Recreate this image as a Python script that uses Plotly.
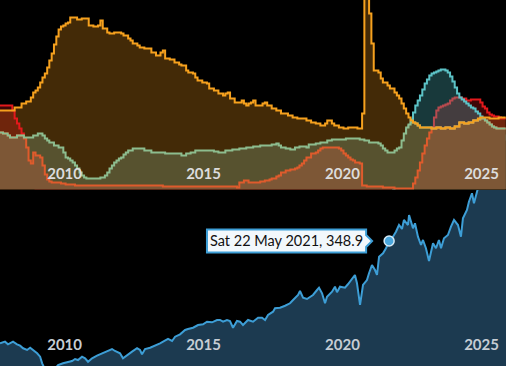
import plotly.graph_objects as go

# ---------------- top panel: monthly step series ----------------
orange_months = ["2007-05","2007-06","2007-12","2008-03","2008-05","2008-07","2008-08","2008-09","2008-10","2008-11",
    "2008-12","2009-01","2009-02","2009-03","2009-04","2009-05","2009-06","2009-07","2009-08","2009-09",
    "2009-10","2009-11","2009-12","2010-03","2010-05","2010-08","2010-10","2010-12","2011-01","2011-02",
    "2011-04","2011-05","2011-07","2011-10","2011-11","2012-01","2012-02","2012-03","2012-05","2012-06",
    "2012-08","2012-11","2013-01","2013-03","2013-04","2013-05","2013-07","2013-09","2013-11","2013-12",
    "2014-02","2014-03","2014-05","2014-06","2014-07","2014-09","2014-11","2014-12","2015-02","2015-04",
    "2015-06","2015-07","2015-08","2015-09","2015-11","2016-02","2016-03","2016-04","2016-05","2016-06",
    "2016-07","2016-08","2016-11","2016-12","2017-01","2017-03","2017-05","2017-07","2017-10","2017-12",
    "2018-02","2018-06","2018-08","2018-10","2018-12","2019-02","2019-03","2019-05","2019-06","2019-08",
    "2019-10","2019-12","2020-04","2020-06","2020-07","2020-09","2020-10","2020-11","2021-01","2021-02",
    "2021-03","2021-05","2021-06","2021-08","2021-09","2021-10","2021-11","2021-12","2022-01","2022-02",
    "2022-03","2022-04","2022-05","2022-06","2022-07","2022-12","2023-02","2023-04","2023-06","2023-08",
    "2023-10","2023-12","2024-02","2024-04","2024-06","2024-08","2024-09","2025-01","2025-05","2025-08"]
orange_vals = [3.95,3.95,4.1,4.3,4.4,4.6,4.85,4.95,5.1,5.35,
    5.6,5.8,6.1,6.45,6.8,7.25,7.65,8.0,8.15,8.2,
    8.3,8.35,8.6,8.5,8.55,8.2,8.15,8.2,8.45,8.05,
    7.85,7.8,7.85,7.8,7.7,7.55,7.45,7.3,7.2,7.1,
    7.05,6.85,6.7,6.85,6.95,6.55,6.5,6.35,6.25,6.2,
    5.95,5.85,5.8,5.6,5.45,5.35,5.3,5.05,4.95,4.8,
    4.7,4.8,4.85,4.55,4.35,4.45,4.3,4.2,4.3,4.35,
    4.45,4.2,4.3,4.35,4.2,4.05,3.95,3.8,3.7,3.6,
    3.55,3.45,3.35,3.3,3.2,3.3,3.45,3.3,3.2,3.1,
    3.05,3.1,3.05,3.8,12.0,8.8,7.3,5.95,5.85,5.55,
    5.35,5.2,5.05,4.85,4.7,4.55,4.3,4.05,3.8,3.6,
    3.45,3.35,3.3,3.2,3.1,3.05,3.1,3.05,3.1,3.05,
    3.15,3.35,3.3,3.35,3.45,3.55,3.6,3.55,3.6,3.6]

green_months = ["2007-05","2007-07","2007-09","2007-10","2008-01","2008-04","2008-08","2008-10","2008-12","2009-01",
    "2009-02","2009-03","2009-05","2009-07","2009-09","2009-10","2009-11","2009-12","2010-01","2010-02",
    "2010-03","2010-04","2010-05","2010-06","2010-07","2011-01","2011-03","2011-04","2011-05","2011-06",
    "2011-07","2011-08","2011-09","2011-10","2011-11","2011-12","2012-01","2012-03","2012-08","2012-11",
    "2013-05","2013-12","2014-02","2014-04","2014-06","2015-02","2015-04","2015-07","2015-10","2016-01",
    "2016-04","2016-07","2016-10","2017-03","2017-05","2017-06","2017-07","2017-09","2017-11","2018-01",
    "2018-03","2018-06","2018-07","2018-10","2018-12","2019-03","2019-05","2019-11","2020-05","2020-07",
    "2020-09","2021-01","2021-02","2021-03","2021-04","2021-05","2021-08","2021-09","2021-10","2021-11",
    "2021-12","2022-01","2022-02","2022-03","2022-04","2022-05","2022-06","2022-07","2022-12","2023-02",
    "2023-04","2023-06","2023-08","2023-10","2023-12","2024-02","2024-04","2024-06","2024-08","2024-09",
    "2024-11","2024-12","2025-01","2025-02","2025-03","2025-04","2025-08"]
green_vals = [2.85,2.8,2.7,2.6,2.7,2.6,2.7,2.8,2.7,2.55,
    2.45,2.35,2.2,2.1,1.85,1.6,1.55,1.45,1.35,1.2,
    1.05,0.85,0.7,0.6,0.55,0.6,0.7,0.85,1.05,1.2,
    1.35,1.45,1.55,1.6,1.75,1.85,1.95,2.05,1.95,1.85,
    1.8,1.7,1.8,1.85,1.95,1.9,1.85,1.95,2.0,2.05,
    2.1,2.15,2.2,2.25,2.3,2.2,2.1,2.05,2.0,2.1,
    2.15,2.1,2.25,2.3,2.35,2.45,2.5,2.55,2.5,2.45,
    2.35,2.3,2.2,2.05,1.95,1.85,1.95,2.05,2.1,2.45,
    2.8,3.1,3.25,3.35,3.35,3.3,3.2,3.1,3.05,3.1,
    3.05,3.1,3.05,3.15,3.35,3.3,3.35,3.45,3.5,3.55,
    3.45,3.35,3.25,3.15,3.1,3.05,3.05]

rust_months = ["2007-05","2007-07","2007-09","2007-10","2008-01","2008-04","2008-05","2008-06","2008-07","2008-08",
    "2008-09","2008-11","2008-12","2009-01","2009-02","2009-03","2009-04","2009-08","2009-10","2010-02",
    "2013-04","2015-12","2016-01","2016-03","2016-05","2016-10","2016-12","2017-02","2017-03","2017-05",
    "2017-06","2017-07","2017-09","2017-11","2018-01","2018-02","2018-03","2018-04","2018-05","2018-06",
    "2018-08","2018-10","2018-11","2018-12","2019-01","2019-08","2019-09","2019-10","2019-11","2019-12",
    "2020-01","2020-02","2020-03","2020-05","2020-06","2020-08","2021-03","2021-08","2022-04","2022-05",
    "2022-06","2022-07","2022-08","2022-09","2022-10","2022-11","2022-12","2023-02","2023-04","2023-06",
    "2023-08","2023-10","2023-12","2024-02","2024-04","2024-06","2024-08","2024-09","2024-11","2024-12",
    "2025-01","2025-02","2025-03","2025-04","2025-08"]
rust_vals = [2.85,2.8,2.7,2.6,2.7,2.55,2.1,1.45,1.3,1.85,
    1.7,1.6,1.2,0.75,0.5,0.4,0.35,0.3,0.25,0.2,
    0.15,0.1,0.35,0.45,0.35,0.4,0.45,0.5,0.55,0.65,
    0.7,0.85,0.95,1.0,1.05,1.1,1.2,1.3,1.45,1.6,
    1.8,1.85,1.95,2.05,2.1,2.05,1.95,1.8,1.7,1.6,
    1.5,1.45,1.35,1.3,0.2,0.15,0.1,0.05,0.3,0.6,
    0.95,1.35,1.8,2.2,2.55,2.85,3.05,3.1,3.05,3.1,
    3.05,3.15,3.35,3.3,3.35,3.45,3.5,3.55,3.45,3.35,
    3.25,3.15,3.1,3.05,3.05]

red_months = ["2007-05","2007-11","2007-12","2008-01","2008-02","2008-03","2008-04","2008-05","2008-06","2008-07",
    "2008-08","2008-09","2022-04","2022-05","2022-06","2022-07","2022-08","2022-09","2022-10","2022-11",
    "2022-12","2023-01","2023-02","2023-03","2023-04","2023-05","2023-06","2023-07","2023-08","2023-09",
    "2023-10","2024-01","2024-03","2024-05","2024-09","2024-10","2024-11","2024-12","2025-01","2025-02",
    "2025-03","2025-05","2025-06","2025-08"]
red_vals = [4.2,3.95,3.55,3.3,3.05,2.8,2.55,2.1,1.2,0.45,
    0.15,0.05,0.3,0.6,0.95,1.35,1.8,2.2,2.55,2.85,
    3.1,3.6,3.95,4.1,4.15,4.2,4.25,4.3,4.45,4.55,
    4.6,4.55,4.45,4.5,4.35,4.15,4.05,3.85,3.75,3.7,
    3.65,3.6,3.55,3.55]

teal_months = ["2021-07","2021-08","2021-09","2021-10","2021-11","2021-12","2022-01","2022-02","2022-03","2022-04",
    "2022-05","2022-06","2022-07","2022-08","2022-09","2022-10","2022-11","2022-12","2023-01","2023-02",
    "2023-03","2023-04","2023-06","2023-07","2023-08","2023-09","2023-10","2023-11","2023-12","2024-01",
    "2024-02","2024-03","2024-04","2024-05","2024-06","2024-07","2024-08","2024-09","2024-10","2024-11",
    "2024-12","2025-01","2025-02","2025-04","2025-08"]
teal_vals = [0.0,0.5,1.0,1.5,2.0,2.5,3.0,3.2,3.5,3.85,
    4.2,4.45,4.7,5.0,5.3,5.5,5.7,5.8,5.85,5.9,
    5.95,6.0,5.95,5.85,5.65,5.4,5.1,4.8,4.6,4.5,
    4.4,4.3,4.2,4.1,4.05,3.9,3.8,3.65,3.5,3.35,
    3.2,3.05,2.9,2.7,2.45]

# ---------------- bottom panel: index line ----------------
index_dates = ["2007-05-23","2007-07-28","2007-09-05","2007-11-10","2008-01-02","2008-02-11","2008-03-21","2008-05-13",
    "2008-06-22","2008-07-31","2008-09-22","2008-10-31","2008-11-27","2009-01-18","2009-03-11","2009-05-03",
    "2009-06-24","2009-08-28","2009-10-20","2009-12-25","2010-02-02","2010-03-13","2010-05-05","2010-06-14",
    "2010-07-23","2010-09-14","2010-11-18","2011-01-23","2011-03-29","2011-06-03","2011-07-12","2011-09-16",
    "2011-10-25","2011-12-17","2012-02-21","2012-04-27","2012-06-05","2012-07-01","2012-08-10","2012-10-15",
    "2012-12-20","2013-02-23","2013-04-04","2013-06-08","2013-07-31","2013-09-09","2013-11-13","2014-01-18",
    "2014-02-26","2014-05-03","2014-07-07","2014-09-11","2014-11-02","2015-01-07","2015-03-14","2015-04-22",
    "2015-06-01","2015-07-23","2015-08-31","2015-10-10","2015-12-01","2016-01-10","2016-02-18","2016-04-24",
    "2016-06-29","2016-09-03","2016-10-25","2016-12-04","2017-01-12","2017-03-19","2017-04-14","2017-06-19",
    "2017-08-24","2017-10-28","2017-12-07","2018-02-11","2018-03-08","2018-04-17","2018-06-08","2018-07-17",
    "2018-08-26","2018-10-18","2018-11-13","2018-12-23","2019-01-31","2019-02-26","2019-05-03","2019-06-11",
    "2019-07-07","2019-08-16","2019-10-20","2019-11-28","2020-01-20","2020-02-28","2020-03-26","2020-04-08",
    "2020-05-05","2020-06-13","2020-08-04","2020-08-31","2020-10-09","2020-11-18","2020-12-14","2021-01-10",
    "2021-03-03","2021-04-11","2021-05-22","2021-07-12","2021-08-20","2021-09-29","2021-11-07","2021-12-03",
    "2022-01-25","2022-02-08","2022-04-01","2022-04-27","2022-06-05","2022-07-15","2022-08-10","2022-09-18",
    "2022-10-28","2022-12-20","2023-01-28","2023-03-08","2023-04-04","2023-05-13","2023-07-04","2023-08-13",
    "2023-09-22","2023-11-13","2023-12-22","2024-01-17","2024-03-10","2024-04-05","2024-05-15","2024-06-10",
    "2024-08-01","2024-11-02","2025-03-14","2025-08-05"]
index_vals = [186.1,188.7,184.5,188.7,184.5,182.3,178.2,175.5,
    179.1,175.5,170.2,164.8,154.3,140.5,137.3,143.6,
    151.6,154.3,155.9,158.0,161.1,159.5,164.8,162.3,
    156.8,162.3,166.4,170.2,173.9,177.0,173.9,170.2,
    162.3,167.5,172.8,178.2,175.5,168.6,177.0,179.1,
    182.3,186.1,188.7,193.0,189.8,196.6,200.4,207.3,
    208.9,210.9,215.2,216.3,220.5,219.5,223.2,223.2,
    220.5,223.2,221.6,210.9,221.6,220.5,215.2,223.2,
    220.5,226.8,226.8,223.2,231.1,236.4,241.8,242.8,
    245.9,249.8,255.0,263.0,269.3,258.7,256.6,260.3,
    263.0,270.9,274.6,265.7,249.8,260.3,268.2,276.2,
    267.3,276.2,274.6,280.0,289.5,294.8,281.6,268.2,
    247.1,278.9,286.8,297.5,310.7,302.7,294.8,323.9,
    329.3,337.3,348.9,355.7,363.7,374.3,368.0,382.3,
    374.3,390.2,369.1,377.0,355.7,342.5,350.5,337.3,
    317.1,345.2,337.3,350.5,337.3,353.2,358.4,371.6,
    382.3,374.3,355.7,385.0,398.2,411.4,424.8,408.9,
    432.7,445.9,453.9,461.8]

hover_date = ["2021-05-22"]
hover_val = [348.9]

tick_vals = ["2010-01-01", "2015-01-01", "2020-01-01", "2025-01-01"]
tick_text = ["2010", "2015", "2020", "2025"]
x_range = ["2007-05-23", "2025-08-05"]

FONT = "Lato, Roboto, sans-serif"

fig = go.Figure()

def step(x, y, **kw):
    return go.Scatter(x=x, y=y, mode="lines", line_shape="hv", hoverinfo="skip",
                      xaxis="x", yaxis="y", **kw)

fig.add_trace(step(orange_months, orange_vals, fill="tozeroy", fillcolor="#432a07",
                   line=dict(width=0, color="#432a07")))
fig.add_trace(step(red_months, red_vals, fill="tozeroy", fillcolor="rgba(225,25,25,0.28)",
                   line=dict(width=2, color="#e3191c")))
fig.add_trace(step(teal_months, teal_vals, fill="tozeroy", fillcolor="rgba(80,190,196,0.30)",
                   line=dict(width=2, color="#5cc3c7")))
fig.add_trace(step(green_months, green_vals, fill="tozeroy", fillcolor="#57522f",
                   line=dict(width=0, color="#57522f")))
fig.add_trace(step(rust_months, rust_vals, fill="tozeroy", fillcolor="#7d5736",
                   line=dict(width=0, color="#7d5736")))
fig.add_trace(step(rust_months, rust_vals, line=dict(width=2, color="#df5b2c")))
fig.add_trace(step(green_months, green_vals, line=dict(width=2, color="#8dbd8f")))
fig.add_trace(step(orange_months, orange_vals, line=dict(width=2, color="#f6a11e")))

fig.add_trace(go.Scatter(x=index_dates, y=index_vals, mode="lines", fill="tozeroy",
                         fillcolor="#1c3a50", line=dict(width=2, color="#3d9ed6"),
                         hoverinfo="skip", xaxis="x2", yaxis="y2"))
fig.add_trace(go.Scatter(x=hover_date, y=hover_val, mode="markers", hoverinfo="skip",
                         marker=dict(size=10, color="#4aa6dc", line=dict(width=1.5, color="#d5eaf6")),
                         xaxis="x2", yaxis="y2"))
fig.add_trace(go.Scatter(x=hover_date, y=hover_val, mode="markers",
                         marker=dict(size=34, opacity=0),
                         hovertemplate="%{x|%a %d %b %Y}, %{y:.1f}<extra></extra>",
                         hoverlabel=dict(bgcolor="#f2f8fc", bordercolor="#3d9ed6",
                                         font=dict(family=FONT, size=14.5, color="#111111")),
                         xaxis="x2", yaxis="y2"))

axis_common = dict(range=x_range, type="date", showgrid=False, zeroline=False, showline=False,
                   ticks="", tickvals=tick_vals, ticktext=tick_text,
                   ticklabelposition="inside", ticklabelshift=-8)

fig.update_layout(
    width=506, height=366, margin=dict(l=0, r=0, t=0, b=0),
    paper_bgcolor="black", plot_bgcolor="black", showlegend=False,
    hovermode="closest",
    xaxis=dict(axis_common, domain=[0, 1], anchor="y", ticklabelstandoff=5,
               tickfont=dict(family=FONT, size=15, color="#dcdcdc", weight="bold")),
    yaxis=dict(domain=[0.48224, 1], range=[0, 9.475], visible=False, fixedrange=True),
    xaxis2=dict(axis_common, domain=[0, 1], anchor="y2", ticklabelstandoff=10,
                tickfont=dict(family=FONT, size=15, color="#c6cdd4", weight="bold")),
    yaxis2=dict(domain=[0, 0.48087], range=[150, 430], visible=False, fixedrange=True),
)

post = r"""
var gd = document.getElementById('{plot_id}');
var st = document.createElement('style');
st.textContent = '.hoverlayer .hovertext path{stroke-width:2px !important;}';
document.head.appendChild(st);
function doHover(){
  var n = gd.data.length - 1;
  try {
    if (window.Plotly && Plotly.Fx && Plotly.Fx.hover) {
      Plotly.Fx.hover(gd, [{curveNumber: n, pointNumber: 0}], 'x2y2');
    }
  } catch (e) {}
  if (!gd.querySelector('.hoverlayer .hovertext')) {
    var fl = gd._fullLayout, xa = fl.xaxis2, ya = fl.yaxis2;
    var tr = gd.data[n];
    var px = xa._offset + xa.d2p(tr.x[0]);
    var py = ya._offset + ya.d2p(tr.y[0]);
    var drag = gd.querySelector('.nsewdrag[data-subplot="x2y2"]');
    var bb = gd.getBoundingClientRect();
    if (drag) {
      drag.dispatchEvent(new MouseEvent('mousemove', {clientX: bb.left + px, clientY: bb.top + py, bubbles: true}));
    }
  }
}
doHover();
"""

fig.write_html("out.html", post_script=post, config={"displayModeBar": False})
